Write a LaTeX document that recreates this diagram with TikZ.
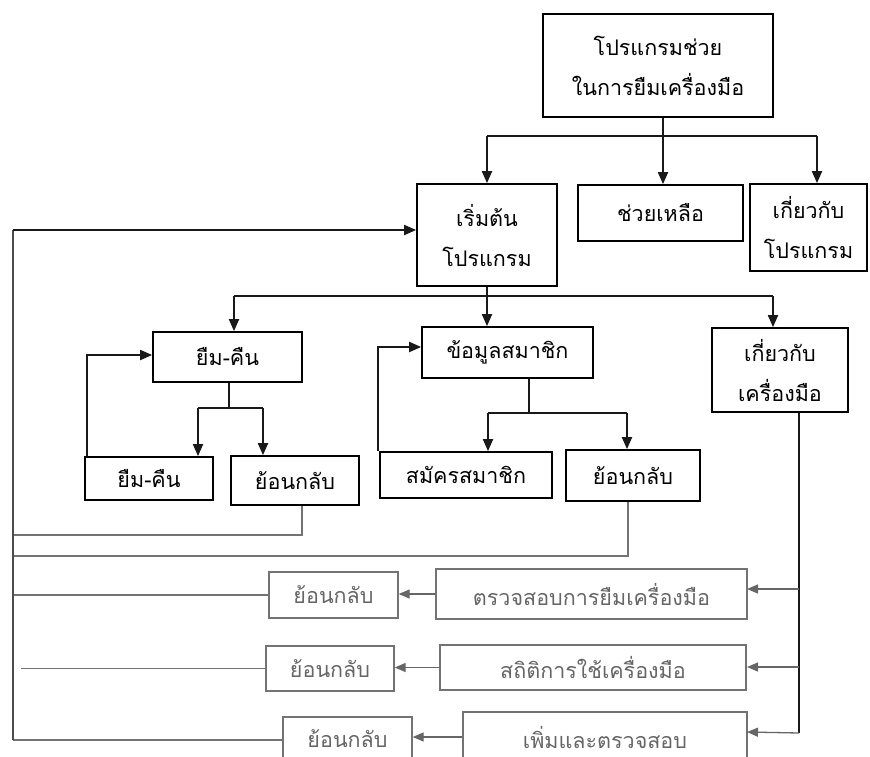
\documentclass[tikz,border=0pt]{standalone}
\usepackage{fontspec}
\newfontfamily\thaifont[Script=Thai]{Loma}
\usetikzlibrary{arrows.meta}
\begin{document}
\begin{tikzpicture}[x=1pt,y=-1pt,
  box/.style={draw=black,line width=1.7pt,inner sep=0pt,align=center,
    font=\thaifont\fontsize{21.5}{40}\selectfont},
  gbox/.style={box,draw=black!55,text=black!60,line width=1.3pt},
  ln/.style={line width=1.8pt,draw=black!90},
  gln/.style={line width=1.3pt,draw=black!55},
  arr/.style={ln,-{Triangle[length=12pt,width=10pt]}},
  garr/.style={gln,-{Triangle[length=11pt,width=9pt]},draw=black!60}]
\useasboundingbox[fill=white] (0,0) rectangle (870,756);

% boxes
\node[box,minimum width=230,minimum height=103] (top) at (658,65.5) {โปรแกรมช่วย\\ในการยืมเครื่องมือ};
\node[box,minimum width=140,minimum height=102] (start) at (487,235) {เริ่มต้น\\โปรแกรม};
\node[box,minimum width=165,minimum height=56] (help) at (660.5,213) {ช่วยเหลือ};
\node[box,minimum width=117,minimum height=87] (aprog) at (808.5,227.5) {เกี่ยวกับ\\โปรแกรม};
\node[box,minimum width=149,minimum height=50] (borrow) at (227.5,357) {ยืม-คืน};
\node[box,minimum width=171,minimum height=51] (member) at (507.5,352.5) {ข้อมูลสมาชิก};
\node[box,minimum width=136,minimum height=84] (atool) at (780,370) {เกี่ยวกับ\\เครื่องมือ};
\node[box,minimum width=128,minimum height=43] (borrowb) at (149,478.5) {ยืม-คืน};
\node[box,minimum width=128,minimum height=49] (backa) at (295,480.5) {ย้อนกลับ};
\node[box,minimum width=172,minimum height=46] (reg) at (466,475) {สมัครสมาชิก};
\node[box,minimum width=134,minimum height=51] (backb) at (633,475.5) {ย้อนกลับ};
\node[gbox,minimum width=311,minimum height=50] (check) at (591.5,594) {ตรวจสอบการยืมเครื่องมือ};
\node[gbox,minimum width=129,minimum height=46] (backc) at (333.5,595) {ย้อนกลับ};
\node[gbox,minimum width=306,minimum height=45] (stat) at (593,667.5) {สถิติการใช้เครื่องมือ};
\node[gbox,minimum width=128,minimum height=45] (backd) at (330,668.5) {ย้อนกลับ};
\node[gbox,minimum width=284,minimum height=50] (add) at (605,737) {เพิ่มและตรวจสอบ};
\node[gbox,minimum width=129,minimum height=44] (backe) at (347.5,739) {ย้อนกลับ};

% top level
\coordinate (t1) at (663,136);
\coordinate (t1r) at (817,136);
\draw[ln] (top.south -| t1) -- (t1);
\draw[ln] (start.north |- t1) -- (t1r);
\draw[arr] (start.north |- t1) -- (start.north);
\draw[arr] (t1) -- (t1 |- help.north);
\draw[arr] (t1r) -- (t1r |- aprog.north);

% second level
\coordinate (t2) at (487,296);
\coordinate (t2l) at (234,296);
\draw[ln] (start.south) -- (t2);
\coordinate (t2m) at (487,296);
\coordinate (t2r) at (773,296);
\draw[ln] (t2l) -- (t2r);
\draw[arr] (t2l) -- (t2l |- borrow.north);
\draw[arr] (t2m) -- (t2m |- member.north);
\draw[arr] (t2r) -- (t2r |- atool.north);

% borrow subtree
\coordinate (b1) at (229,408);
\coordinate (b1l) at (198,408);
\coordinate (b1r) at (263,408);
\draw[ln] (borrow.south -| b1) -- (b1);
\draw[ln] (b1l) -- (b1r);
\draw[arr] (b1l) -- (b1l |- borrowb.north);
\draw[arr] (b1r) -- (b1r |- backa.north);
\coordinate (lp1) at (87,355);
\draw[arr] (borrowb.north -| lp1) -- (lp1) -- (lp1 -| borrow.west);

% member subtree
\coordinate (m1) at (529,413);
\coordinate (m1l) at (488,413);
\coordinate (m1r) at (627,413);
\draw[ln] (member.south -| m1) -- (m1);
\draw[ln] (m1l) -- (m1r);
\draw[arr] (m1l) -- (m1l |- reg.north);
\draw[arr] (m1r) -- (m1r |- backb.north);
\coordinate (lp2) at (378,347);
\draw[arr] (reg.north -| lp2) -- (lp2) -- (lp2 -| member.west);

% tool subtree
\coordinate (v0) at (799,412);
\coordinate (v1) at (799,733);
\draw[ln] (atool.south -| v0) -- (v1);
\coordinate (ca) at (747,589);
\coordinate (cb) at (747,667);
\coordinate (cc) at (747,732);
\draw[garr] (v0 |- ca) -- (ca);
\draw[garr] (v0 |- cb) -- (cb);
\draw[garr] (v1) -- (cc);
\draw[garr] (check.west) -- (check.west -| backc.east);
\draw[garr] (stat.west) -- (stat.west -| backd.east);
\draw[garr] (add.west) -- (add.west -| backe.east);

% return lines
\coordinate (L0) at (13,230);
\coordinate (L1) at (13,740);
\coordinate (ra) at (302,535);
\coordinate (rb) at (628,556);
\coordinate (rd) at (21,669);
\draw[gln] (backa.south -| ra) -- (ra) -- (ra -| L1);
\draw[gln] (backb.south -| rb) -- (rb) -- (rb -| L1);
\draw[gln] (backc.west) -- (backc.west -| L1);
\draw[gln] (backd.west) -- (backd.west -| rd);
\draw[gln] (backe.west |- L1) -- (L1);
\draw[ln,draw=black!70] (L1) -- (L0);
\draw[arr] (L0) -- (L0 -| start.west);
\end{tikzpicture}
\end{document}
